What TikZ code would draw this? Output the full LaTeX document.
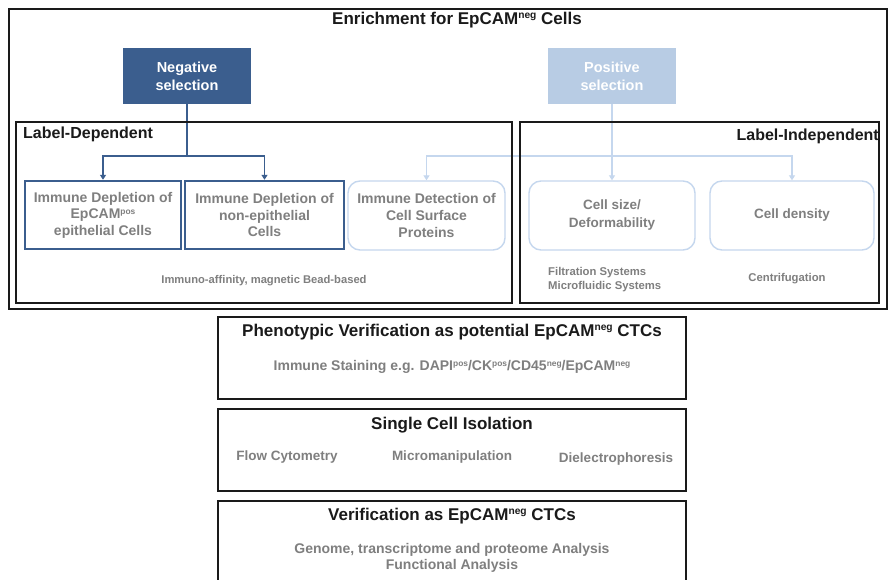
\documentclass[tikz,border=0pt]{standalone}
\usepackage{fontspec}
\usepackage{graphicx}
\setmainfont{Liberation Sans}
\usetikzlibrary{arrows.meta}
\definecolor{negblue}{HTML}{3B5E8E}
\definecolor{posblue}{HTML}{B8CCE4}
\definecolor{lightline}{HTML}{C5D7EE}
\definecolor{graytxt}{HTML}{7F7F7F}
\definecolor{framek}{HTML}{1A1A1A}
\newcommand{\sps}[1]{\raisebox{0.62ex}{\scalebox{0.6}{#1}}}
\begin{document}
\begin{tikzpicture}[x=1pt,y=-1pt,
  frame/.style={draw=framek, line width=2.4pt, inner sep=0pt},
  selbox/.style={text=white, font=\bfseries\fontsize{14.5}{18}\selectfont, align=center, inner sep=0pt, minimum width=128pt, minimum height=56pt},
  depbox/.style={draw=negblue, line width=2.4pt, text=graytxt, font=\bfseries\fontsize{14}{16.5}\selectfont, align=center, inner sep=0pt, minimum height=68pt},
  lightbox/.style={draw=lightline, line width=1.4pt, rounded corners=12pt, text=graytxt, font=\bfseries\fontsize{14}{17}\selectfont, align=center, inner sep=0pt, minimum height=69pt},
  negline/.style={draw=negblue, line width=1.6pt},
  posline/.style={draw=lightline, line width=1.6pt},
  tip/.style={-{Triangle[length=5pt,width=6pt]}},
  title/.style={font=\bfseries\fontsize{17}{19}\selectfont, text=framek},
  heading/.style={font=\bfseries\fontsize{16}{19}\selectfont, text=framek},
  graysub/.style={font=\bfseries\fontsize{14}{16}\selectfont, text=graytxt, align=center},
  smallsub/.style={font=\bfseries\fontsize{11.3}{14}\selectfont, text=graytxt, align=left}
]
\useasboundingbox (0,0) rectangle (889,580);
\fill[white] (0,0) rectangle (889,580);
\clip (0,0) rectangle (889,580);

% outer enrichment box
\node[frame, minimum width=878pt, minimum height=300pt] (outer) at (448,159) {};
\node[title] (enrich) at (457,20) {Enrichment for EpCAM\sps{neg} Cells};

% selection boxes
\node[selbox, fill=negblue] (neg) at (187,76) {Negative\\selection};
\node[selbox, fill=posblue] (pos) at (612,76) {Positive\\selection};

% boxes of the second row
\node[depbox, minimum width=156pt] (b1) at (103,215) {Immune Depletion of\\EpCAM\sps{pos}\\epithelial Cells};
\node[depbox, minimum width=159pt] (b2) at (264.5,215) {Immune Depletion of\\non-epithelial\\Cells};
\node[lightbox, minimum width=157pt] (b3) at (426.5,215.5) {Immune Detection of\\Cell Surface\\Proteins};
\node[lightbox, minimum width=166pt, font=\bfseries\fontsize{13.5}{18}\selectfont] (b4) at (612,215.5) {Cell size/\\Deformability};
\node[lightbox, minimum width=164pt, font=\bfseries\fontsize{13.5}{18}\selectfont] (b5) at (792,215.5) {Cell density};

% connectors
\coordinate (nj) at (187,156);
\coordinate (pj) at (612,156);
\draw[negline] (neg.south) -- (nj);
\draw[negline, tip] (nj) -| (b1.north);
\draw[negline, tip] (nj) -| (b2.north);
\draw[posline, tip] (pos.south) -- (b4.north);
\draw[posline, tip] (pj) -| (b3.north);
\draw[posline, tip] (pj) -| (b5.north);

% label-dependent / independent boxes
\node[frame, minimum width=496pt, minimum height=181pt] (dep) at (264,212.5) {};
\node[frame, minimum width=359pt, minimum height=181pt] (indep) at (699.5,212.5) {};
\node[heading, anchor=west, inner sep=0pt] (deplab) at (23,134) {Label-Dependent};
\node[heading, anchor=east, inner sep=0pt] (indeplab) at (879,136) {Label-Independent};

\node[smallsub, font=\bfseries\fontsize{11.2}{14}\selectfont] (immaff) at (264,281) {Immuno-affinity, magnetic Bead-based};
\node[smallsub, anchor=west, inner sep=0pt] (filt) at (548,280) {Filtration Systems\\Microfluidic Systems};
\node[smallsub] (centri) at (787,279) {Centrifugation};

% phenotypic verification
\node[frame, minimum width=468pt, minimum height=82pt] (pheno) at (452,358) {};
\node[title] (phenot) at (452,332) {Phenotypic Verification as potential EpCAM\sps{neg} CTCs};
\node[graysub] (stain) at (452,367) {Immune Staining e.g. DAPI\sps{pos}/CK\sps{pos}/CD45\sps{neg}/EpCAM\sps{neg}};

% single cell isolation
\node[frame, minimum width=468pt, minimum height=82pt] (single) at (452,450) {};
\node[title] (singlet) at (452,425) {Single Cell Isolation};
\node[graysub, font=\bfseries\fontsize{13.5}{16}\selectfont] (flow) at (287,457) {Flow Cytometry};
\node[graysub, font=\bfseries\fontsize{13.5}{16}\selectfont] (micro) at (452,457) {Micromanipulation};
\node[graysub, font=\bfseries\fontsize{13.5}{16}\selectfont] (diel) at (616,459) {Dielectrophoresis};

% verification
\node[frame, minimum width=468pt, minimum height=82pt] (verif) at (452,542) {};
\node[title] (verift) at (452,516) {Verification as EpCAM\sps{neg} CTCs};
\node[graysub] (genome) at (452,558) {Genome, transcriptome and proteome Analysis\\Functional Analysis};
\end{tikzpicture}
\end{document}
